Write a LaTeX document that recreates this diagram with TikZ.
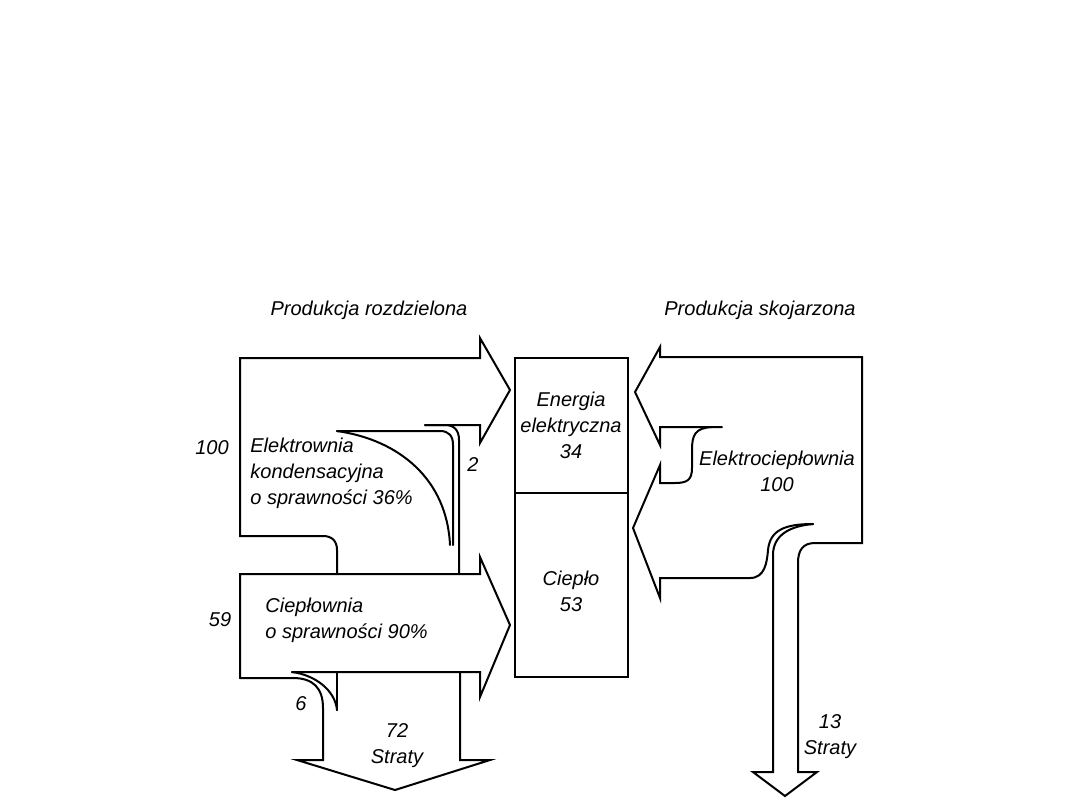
\documentclass[tikz,border=0pt]{standalone}
\usepackage{fontspec}
\setmainfont{Liberation Sans}
\begin{document}
\begin{tikzpicture}[x=0.5pt,y=-0.5pt,
  lbl/.style={font=\fontsize{10}{13}\selectfont\itshape, inner sep=0pt, align=center},
  lbll/.style={lbl, align=left, anchor=west},
  flow/.style={draw=black, line width=1pt, line join=miter, line cap=round}]
\fill[white] (0,0) rectangle (1080,810);
\useasboundingbox (0,0) rectangle (1080,810);

% ---------- left: separate production ----------
% power plant arrow
\draw[flow] (337,574) -- (337,550) .. controls (337,541) and (332,536) .. (323,536)
  -- (240,536) -- (240,358) -- (480,358) -- (480,338) -- (510,390) -- (480,443)
  -- (480,425) -- (425,425);
\draw[flow] (425,425) -- (445,425) .. controls (454,425) and (459,430) .. (459,440) -- (459,574);
\draw[flow] (337,431) -- (440,431) .. controls (449,431) and (453,436) .. (453,445) -- (453,545);
\draw[flow] (337,431) .. controls (400,440) and (447,480) .. (450,545);
% heating plant arrow
\draw[flow] (240,678) -- (240,574) -- (480,574) -- (480,557) -- (510,625) -- (480,697)
  -- (480,672) -- (292,672);
% losses
\draw[flow] (240,678) -- (293,678) .. controls (313,678) and (323,688) .. (323,708)
  -- (323,760) -- (297,760) -- (395,790) -- (490,760) -- (460,760) -- (460,672);
\draw[flow] (337,672) -- (337,710);
\draw[flow] (292,672) .. controls (315,675) and (335,690) .. (337,710);

% ---------- centre box ----------
\draw[flow] (515,358) rectangle (628,677);
\draw[flow] (515,493) -- (628,493);

% ---------- right: cogeneration ----------
\draw[flow] (722,427) -- (660,427) -- (660,445) -- (635,392) -- (660,347) -- (660,357)
  -- (862,357) -- (862,543) -- (815,543) .. controls (803,543) and (798,550) .. (798,563)
  -- (798,772) -- (817,772) -- (785,796) -- (753,772) -- (773,772) -- (773,555)
  .. controls (773,535) and (790,526) .. (813,524);
\draw[flow] (712,427) .. controls (695,428) and (692,435) .. (692,450) -- (692,468)
  .. controls (692,480) and (687,483) .. (675,483) -- (660,483) -- (660,465)
  -- (633,528) -- (660,598) -- (660,578) -- (750,578)
  .. controls (765,578) and (767,562) .. (768,550) .. controls (770,530) and (785,524) .. (813,524);

% ---------- labels ----------
\node[lbl] (t1) at (369,310) {Produkcja rozdzielona};
\node[lbl] (t2) at (760,310) {Produkcja skojarzona};
\node[lbl] (n100) at (212,448) {100};
\node[lbl] (n59) at (220,620) {59};
\node[lbll] (elek) at (250,473) {Elektrownia\\kondensacyjna\\o sprawności 36\%};
\node[lbll] (ciep) at (265,620) {Ciepłownia\\o sprawności 90\%};
\node[lbl] (n2) at (473,465) {2};
\node[lbl] (n6) at (301,704) {6};
\node[lbl] (s72) at (397,746) {72\\Straty};
\node[lbl] (ee) at (571,425) {Energia\\elektryczna\\34};
\node[lbl] (cp) at (571,591) {Ciepło\\53};
\node[lbl] (ec) at (777,471) {Elektrociepłownia\\100};
\node[lbl] (s13) at (830,737) {13\\Straty};
\end{tikzpicture}
\end{document}
